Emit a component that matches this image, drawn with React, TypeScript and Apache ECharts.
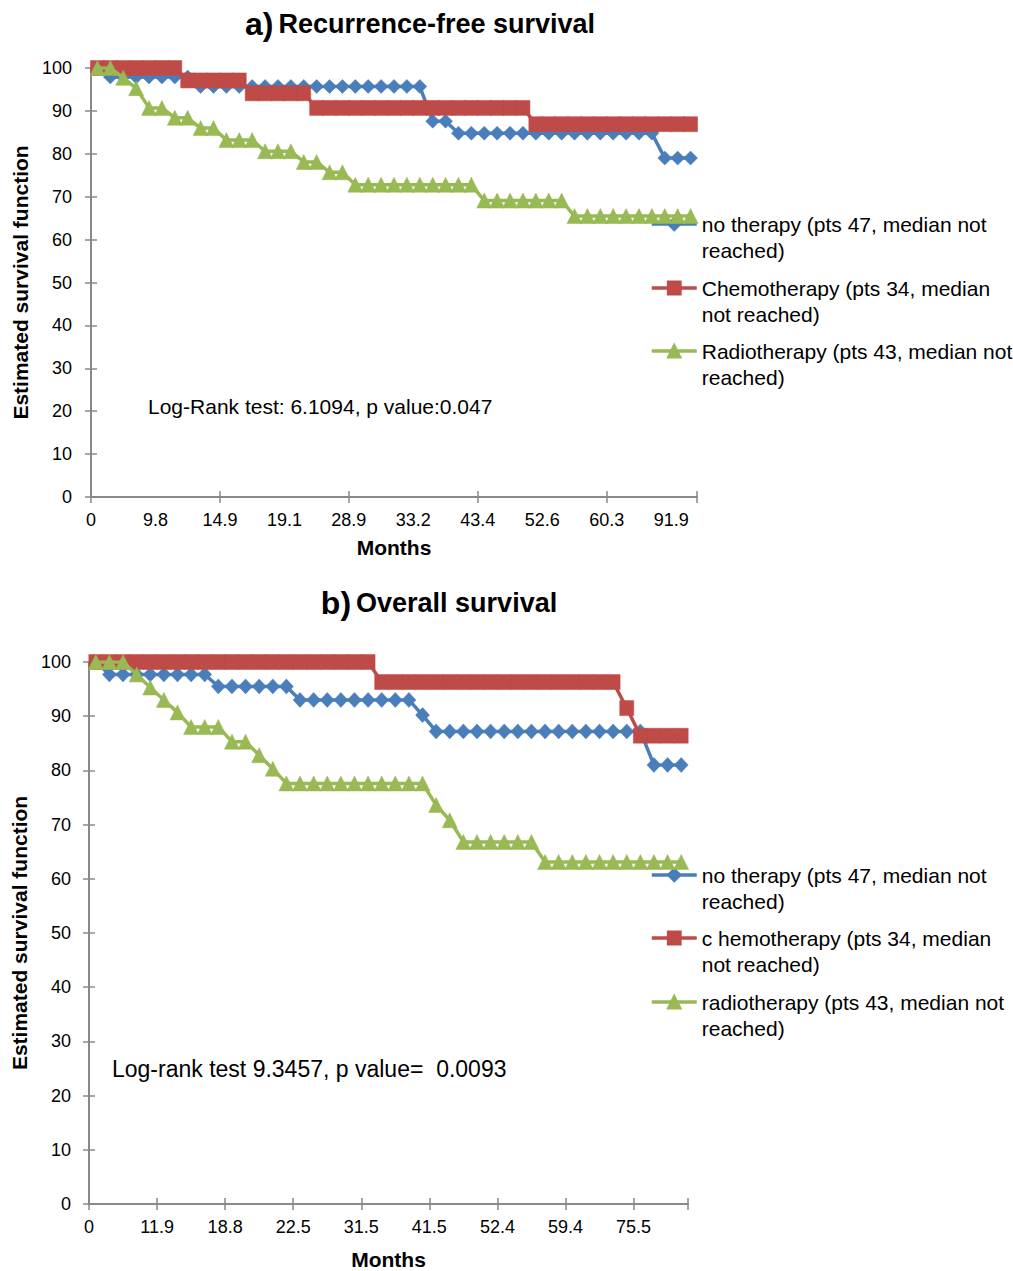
import React, { useEffect, useRef } from "react";
import * as echarts from "echarts";

const FONT = "'Liberation Sans', Arial, Helvetica, sans-serif";

// ---------- Panel a) Recurrence-free survival ----------
const tickLabelsA = ["0", "9.8", "14.9", "19.1", "28.9", "33.2", "43.4", "52.6", "60.3", "91.9"];
const noTherapyA = [
  100, 97.9, 97.9, 97.9, 97.9, 97.9, 97.9, 97.9,
  95.7, 95.7, 95.7, 95.7, 95.7, 95.7, 95.7, 95.7, 95.7, 95.7, 95.7, 95.7, 95.7, 95.7, 95.7, 95.7, 95.7, 95.7,
  87.6, 87.6,
  84.8, 84.8, 84.8, 84.8, 84.8, 84.8, 84.8, 84.8, 84.8, 84.8, 84.8, 84.8, 84.8, 84.8, 84.8, 84.8,
  79.0, 79.0, 79.0,
];
const chemoA = [
  100, 100, 100, 100, 100, 100, 100,
  97.1, 97.1, 97.1, 97.1, 97.1,
  94.1, 94.1, 94.1, 94.1, 94.1,
  90.7, 90.7, 90.7, 90.7, 90.7, 90.7, 90.7, 90.7, 90.7, 90.7, 90.7, 90.7, 90.7, 90.7, 90.7, 90.7, 90.7,
  86.9, 86.9, 86.9, 86.9, 86.9, 86.9, 86.9, 86.9, 86.9, 86.9, 86.9, 86.9, 86.9,
];
const radioA = [
  100, 100, 97.7, 95.3, 90.7, 90.7, 88.4, 88.4, 86.0, 86.0,
  83.2, 83.2, 83.2, 80.6, 80.6, 80.6, 78.1, 78.1, 75.7, 75.7,
  72.8, 72.8, 72.8, 72.8, 72.8, 72.8, 72.8, 72.8, 72.8, 72.8,
  69.1, 69.1, 69.1, 69.1, 69.1, 69.1, 69.1,
  65.5, 65.5, 65.5, 65.5, 65.5, 65.5, 65.5, 65.5, 65.5, 65.5,
];
const namesA = [
  "no therapy (pts 47, median not reached)",
  "Chemotherapy (pts 34, median not reached)",
  "Radiotherapy (pts 43, median not reached)",
];
const legendTextA = [
  "no therapy (pts 47, median not\nreached)",
  "Chemotherapy (pts 34, median\nnot reached)",
  "Radiotherapy (pts 43, median not\nreached)",
];
const noteA = "Log-Rank test: 6.1094, p value:0.047";

// ---------- Panel b) Overall survival ----------
const tickLabelsB = ["0", "11.9", "18.8", "22.5", "31.5", "41.5", "52.4", "59.4", "75.5"];
const noTherapyB = [
  100, 97.7, 97.7, 97.7, 97.7, 97.7, 97.7, 97.7, 97.7,
  95.5, 95.5, 95.5, 95.5, 95.5, 95.5,
  93.0, 93.0, 93.0, 93.0, 93.0, 93.0, 93.0, 93.0, 93.0,
  90.2,
  87.2, 87.2, 87.2, 87.2, 87.2, 87.2, 87.2, 87.2, 87.2, 87.2, 87.2, 87.2, 87.2, 87.2, 87.2, 87.2,
  81.0, 81.0, 81.0,
];
const chemoB = [
  100, 100, 100, 100, 100, 100, 100, 100, 100, 100, 100, 100, 100, 100, 100, 100, 100, 100, 100, 100, 100,
  96.3, 96.3, 96.3, 96.3, 96.3, 96.3, 96.3, 96.3, 96.3, 96.3, 96.3, 96.3, 96.3, 96.3, 96.3, 96.3, 96.3, 96.3,
  91.5,
  86.4, 86.4, 86.4, 86.4,
];
const radioB = [
  100, 100, 100, 97.7, 95.3, 93.0, 90.7, 88.0, 88.0, 88.0,
  85.3, 85.3, 82.8, 80.3,
  77.6, 77.6, 77.6, 77.6, 77.6, 77.6, 77.6, 77.6, 77.6, 77.6, 77.6,
  73.6, 70.8,
  66.8, 66.8, 66.8, 66.8, 66.8, 66.8,
  63.1, 63.1, 63.1, 63.1, 63.1, 63.1, 63.1, 63.1, 63.1, 63.1, 63.1,
];
const namesB = [
  "no therapy (pts 47, median not reached)",
  "c hemotherapy (pts 34, median not reached)",
  "radiotherapy (pts 43, median not reached)",
];
const legendTextB = [
  "no therapy (pts 47, median not\nreached)",
  "c hemotherapy (pts 34, median\nnot reached)",
  "radiotherapy (pts 43, median not\nreached)",
];
const noteB = "Log-rank test 9.3457, p value=  0.0093";

const yTicks = { min: 0, max: 100, interval: 10 };
const LABEL_EVERY = 5;

const COLORS = ["#4A7EBB", "#BE4B48", "#98B954"];
const SYMBOLS = ["diamond", "rect", "triangle"];

function buildCategories(labels: string[], count: number): string[] {
  const out: string[] = [];
  for (let i = 0; i < count; i++) {
    out.push(i % LABEL_EVERY === 0 ? labels[i / LABEL_EVERY] ?? "" : "");
  }
  return out;
}

export default function App() {
  const ref = useRef<HTMLDivElement>(null);

  useEffect(() => {
    if (!ref.current) return;
    const chart = echarts.init(ref.current, undefined, { renderer: "svg" });

    const catsA = buildCategories(tickLabelsA, noTherapyA.length);
    const catsB = buildCategories(tickLabelsB, noTherapyB.length);

    const gridA = { left: 91, top: 68, width: 606, height: 429 };
    const gridB = { left: 89, top: 662, width: 599, height: 543 };
    const bandA = gridA.width / catsA.length;
    const bandB = gridB.width / catsB.length;

    const axisColor = "#898989";
    const labelStyle = { color: "#000", fontFamily: FONT, fontSize: 18 };
    const nameStyle = { color: "#000", fontFamily: FONT, fontSize: 21, fontWeight: "bold" as const };

    const xMain = (gi: number, cats: string[], band: number, tickInt: number, gap: number) => ({
      type: "category",
      gridIndex: gi,
      data: cats,
      boundaryGap: true,
      position: "bottom",
      name: "Months",
      nameLocation: "middle",
      nameGap: gap,
      nameTextStyle: nameStyle,
      axisLine: { show: true, lineStyle: { color: axisColor, width: 2 } },
      axisTick: { show: true, interval: tickInt, length: 6, lineStyle: { color: axisColor, width: 1.5 } },
      axisLabel: {
        interval: LABEL_EVERY - 1,
        margin: 14,
        padding: [0, band, 0, 0],
        ...labelStyle,
      },
      splitLine: { show: false },
    });
    const xInner = (gi: number, cats: string[], tickInt: number) => ({
      type: "category",
      gridIndex: gi,
      data: cats,
      boundaryGap: true,
      position: "bottom",
      axisLine: { show: false },
      axisTick: { show: true, inside: true, interval: tickInt, length: 6, lineStyle: { color: axisColor, width: 1.5 } },
      axisLabel: { show: false },
      splitLine: { show: false },
    });
    const yMain = (gi: number, gap: number, margin: number) => ({
      type: "value",
      gridIndex: gi,
      ...yTicks,
      position: "left",
      name: "Estimated survival function",
      nameLocation: "middle",
      nameRotate: 90,
      nameGap: gap,
      nameTextStyle: nameStyle,
      axisLine: { show: true, lineStyle: { color: axisColor, width: 2 } },
      axisTick: { show: true, length: 6, lineStyle: { color: axisColor, width: 1.5 } },
      axisLabel: { margin, ...labelStyle },
      splitLine: { show: false },
    });
    const yInner = (gi: number) => ({
      type: "value",
      gridIndex: gi,
      ...yTicks,
      position: "left",
      axisLine: { show: false },
      axisTick: { show: true, inside: true, length: 6, lineStyle: { color: axisColor, width: 1.5 } },
      axisLabel: { show: false },
      splitLine: { show: false },
    });

    const mkSeries = (name: string, data: number[], k: number, xi: number, yi: number, sizes: any[]) => ({
      type: "line",
      name,
      data,
      xAxisIndex: xi,
      yAxisIndex: yi,
      symbol: SYMBOLS[k],
      symbolSize: sizes[k],
      showAllSymbol: true,
      lineStyle: { color: COLORS[k], width: 3.5 },
      itemStyle: { color: COLORS[k], borderColor: COLORS[k], borderWidth: 0.5, opacity: 1 },
      emphasis: { disabled: true },
      z: 2 + k,
    });
    const sizesA = [[14, 14], [14, 15], [15, 15]];
    const sizesB = [[14, 15], [14, 15], [15, 15]];

    const lh = 26;
    // a blank first line keeps the icon level with the first text line
    const legendFor = (name: string, text: string, iconY: number) => ({
      data: [name],
      left: 650,
      top: iconY - 1.5 * lh,
      orient: "vertical",
      padding: 0,
      itemWidth: 45,
      itemHeight: 16,
      selectedMode: false,
      lineStyle: { width: 3.5 },
      formatter: () => "\u00a0\n" + text,
      textStyle: { color: "#000", fontFamily: FONT, fontSize: 21, lineHeight: lh },
    });

    const legendYA = [224, 288, 351];
    const legendYB = [875, 938, 1002];

    const titleRich = {
      a: { fontFamily: FONT, fontSize: 32, fontWeight: "bold", color: "#000" },
      t: { fontFamily: FONT, fontSize: 27, fontWeight: "bold", color: "#000" },
    };

    const option: any = {
      animation: false,
      backgroundColor: "#fff",
      textStyle: { fontFamily: FONT },
      title: [
        {
          text: "{a|a)} {t|Recurrence-free survival}",
          left: 415,
          top: 3,
          textAlign: "center",
          textStyle: { rich: titleRich },
        },
        {
          text: "{a|b)} {t|Overall survival}",
          left: 434,
          top: 582,
          textAlign: "center",
          textStyle: { rich: titleRich },
        },
      ],
      grid: [gridA, gridB],
      xAxis: [
        xMain(0, catsA, bandA, 9, 40),
        xInner(0, catsA, 9),
        xMain(1, catsB, bandB, 4, 45),
        xInner(1, catsB, 4),
      ],
      yAxis: [yMain(0, 58, 19), yInner(0), yMain(1, 56, 18), yInner(1)],
      legend: [
        ...namesA.map((n, i) => legendFor(n, legendTextA[i], legendYA[i])),
        ...namesB.map((n, i) => legendFor(n, legendTextB[i], legendYB[i])),
      ],
      series: [
        mkSeries(namesA[0], noTherapyA, 0, 0, 0, sizesA),
        mkSeries(namesA[1], chemoA, 1, 0, 0, sizesA),
        mkSeries(namesA[2], radioA, 2, 0, 0, sizesA),
        mkSeries(namesB[0], noTherapyB, 0, 2, 2, sizesB),
        mkSeries(namesB[1], chemoB, 1, 2, 2, sizesB),
        mkSeries(namesB[2], radioB, 2, 2, 2, sizesB),
      ],
      graphic: [
        {
          type: "text",
          left: 148,
          top: 396,
          style: { text: noteA, fontFamily: FONT, fontSize: 21, fill: "#000" },
        },
        {
          type: "text",
          left: 112,
          top: 1057,
          style: { text: noteB, fontFamily: FONT, fontSize: 23, fill: "#000" },
        },
      ],
    };

    chart.setOption(option);
    return () => chart.dispose();
  }, []);

  return (
    <div
      ref={ref}
      style={{ position: "absolute", left: 0, top: 0, width: 1013, height: 1271, background: "#fff" }}
    />
  );
}
